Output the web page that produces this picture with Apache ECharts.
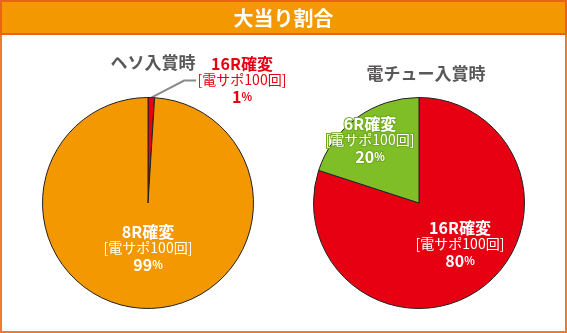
<!DOCTYPE html>
<html>
<head>
<meta charset="utf-8">
<script src="https://cdn.jsdelivr.net/npm/echarts@6/dist/echarts.min.js"></script>
<style>
  html, body { margin: 0; padding: 0; background: #fff; }
  #chart { width: 567px; height: 333px; }
</style>
</head>
<body>
<div id="chart"></div>
<script>
// Header and pie titles
const headerTitle = '大当り割合';
const pieTitles = ['ヘソ入賞時', '電チュー入賞時'];

// Jackpot split when entering the centre pocket (ヘソ)
const hesoCategories = ['16R確変', '8R確変'];
const hesoValues = [1, 99];

// Jackpot split when entering the electric tulip (電チュー)
const denchuCategories = ['16R確変', '6R確変'];
const denchuValues = [80, 20];

// Shared sub-line shown in every slice label
const supportNote = '[電サポ100回]';

const ORANGE = '#F39800';
const RED = '#E60012';
const GREEN = '#80BE28';
const FONT = '"Noto Sans CJK JP", "Noto Sans", sans-serif';

function richFor(fill, outline, outlineWidth) {
  const base = { fontFamily: FONT, color: fill, textBorderColor: outline, textBorderWidth: outlineWidth };
  return {
    n: Object.assign({}, base, { fontSize: 16, fontWeight: 'bold', lineHeight: 16 }),
    s: Object.assign({}, base, { fontSize: 14, fontWeight: 'normal', lineHeight: 16 }),
    v: Object.assign({}, base, { fontSize: 16, fontWeight: 'bold', lineHeight: 18 }),
    p: Object.assign({}, base, { fontSize: 11, fontWeight: 'bold', lineHeight: 18 })
  };
}

function labelText(p) {
  return '{n|' + p.name + '}\n{s|' + supportNote + '}\n{v|' + p.value + '}{p|%}';
}

function makeData(names, values, colors, labels) {
  return names.map((name, i) => ({
    name: name,
    value: values[i],
    itemStyle: { color: colors[i] },
    label: labels[i]
  }));
}

const chart = echarts.init(document.getElementById('chart'), null, { renderer: 'canvas' });

const option = {
  animation: false,
  graphic: [
    { type: 'rect', shape: { x: 1, y: 1, width: 565, height: 331 }, style: { fill: '#fff', stroke: '#EF7B2C', lineWidth: 2 }, z: -10 },
    { type: 'rect', shape: { x: 1, y: 1, width: 565, height: 33 }, style: { fill: ORANGE, stroke: '#E8631A', lineWidth: 2 }, z: -5 },
    { type: 'text', x: 283.5, y: 18, style: { text: headerTitle, fill: '#fff', font: 'bold 20px ' + FONT, align: 'center', verticalAlign: 'middle' }, z: 10 }
  ],
  title: [
    { text: pieTitles[0], left: 148, top: 49, textAlign: 'center',
      textStyle: { fontFamily: FONT, fontSize: 17, fontWeight: 'bold', color: '#595757' } },
    { text: pieTitles[1], left: 421, top: 60, textAlign: 'center',
      textStyle: { fontFamily: FONT, fontSize: 17, fontWeight: 'bold', color: '#595757' } }
  ],
  series: [
    {
      type: 'pie',
      center: [148, 203],
      radius: 105.5,
      startAngle: 90,
      clockwise: true,
      itemStyle: { borderColor: '#222', borderWidth: 1 },
      emphasis: { disabled: true },
      labelLine: { show: true, length: 8, length2: 12, lineStyle: { color: '#8a8a8a', width: 2 }, smooth: false },
      data: makeData(hesoCategories, hesoValues, [RED, ORANGE], [
        { show: true, position: 'outside', formatter: labelText, align: 'center', rich: richFor(RED, '#fff', 3) },
        { show: true, position: 'inside', formatter: labelText, align: 'center', rich: richFor('#fff', ORANGE, 2) }
      ]),
      labelLayout: function (p) {
        if (p.dataIndex === 0) return { x: 242, y: 81, align: 'center', verticalAlign: 'middle' };
        return { x: 148, y: 249, align: 'center', verticalAlign: 'middle' };
      }
    },
    {
      type: 'pie',
      center: [419, 203],
      radius: 105.5,
      startAngle: 90,
      clockwise: true,
      itemStyle: { borderColor: '#222', borderWidth: 1 },
      emphasis: { disabled: true },
      labelLine: { show: false },
      data: makeData(denchuCategories, denchuValues, [RED, GREEN], [
        { show: true, position: 'inside', formatter: labelText, align: 'center', rich: richFor('#fff', RED, 2) },
        { show: true, position: 'inside', formatter: labelText, align: 'center', rich: richFor('#fff', '#6FAA1E', 2) }
      ]),
      labelLayout: function (p) {
        if (p.dataIndex === 0) return { x: 460, y: 245, align: 'center', verticalAlign: 'middle' };
        return { x: 370, y: 141, align: 'center', verticalAlign: 'middle' };
      }
    }
  ]
};

chart.setOption(option);
</script>
</body>
</html>
